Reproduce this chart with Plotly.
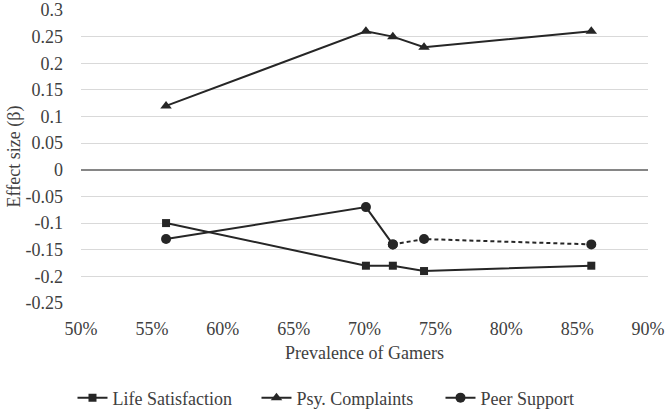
import plotly.graph_objects as go

# prevalence of gamers (%) per country group
prevalence = [56, 70.1, 72, 74.2, 86]

life_satisfaction = [-0.10, -0.18, -0.18, -0.19, -0.18]
psy_complaints = [0.12, 0.26, 0.25, 0.23, 0.26]
peer_support = [-0.13, -0.07, -0.14, -0.13, -0.14]

y_ticks = [0.3, 0.25, 0.2, 0.15, 0.1, 0.05, 0, -0.05, -0.1, -0.15, -0.2, -0.25]
y_labels = ['0.3', '0.25', '0.2', '0.15', '0.1', '0.05', '0', '-0.05', '-0.1', '-0.15', '-0.2', '-0.25']
x_ticks = [50, 55, 60, 65, 70, 75, 80, 85, 90]
x_labels = ['50%', '55%', '60%', '65%', '70%', '75%', '80%', '85%', '90%']

ink = '#262626'
serif = 'Liberation Serif'
txt = dict(family=serif, size=18, color='#404040')

fig = go.Figure()

fig.add_trace(go.Scatter(
    x=prevalence, y=life_satisfaction, name='Life Satisfaction',
    mode='lines+markers', line=dict(color=ink, width=2),
    marker=dict(symbol='square', size=8, color=ink)))

fig.add_trace(go.Scatter(
    x=prevalence, y=psy_complaints, name='Psy. Complaints',
    mode='lines+markers', line=dict(color=ink, width=2),
    marker=dict(symbol='triangle-up', size=10, color=ink)))

# peer support: solid for first three points, dashed afterwards
fig.add_trace(go.Scatter(
    x=prevalence[:3], y=peer_support[:3], name='Peer Support',
    mode='lines+markers', line=dict(color=ink, width=2),
    marker=dict(symbol='circle', size=10, color=ink)))
fig.add_trace(go.Scatter(
    x=prevalence[2:], y=peer_support[2:], name='Peer Support',
    mode='lines+markers', line=dict(color=ink, width=2, dash='4px,3px'),
    marker=dict(symbol='circle', size=10, color=ink), showlegend=False))

fig.update_layout(
    width=666, height=410,
    paper_bgcolor='white', plot_bgcolor='white',
    font=txt,
    margin=dict(l=81, r=18, t=10, b=107, autoexpand=False),
    legend=dict(orientation='h', x=-0.015, xanchor='left', y=-0.324, yanchor='middle',
                font=txt, tracegroupgap=0, entrywidth=139),
    xaxis=dict(
        range=[50, 90], tickvals=x_ticks, ticktext=x_labels, tickfont=txt,
        ticklabelstandoff=13, automargin=False,
        showgrid=False, zeroline=False, showline=False,
        title=dict(text='Prevalence of Gamers', font=txt, standoff=8),
    ),
    yaxis=dict(
        range=[-0.25, 0.3], tickvals=y_ticks, ticktext=y_labels, tickfont=txt,
        ticklabelstandoff=17, automargin=False,
        showgrid=True, gridcolor='#d9d9d9', gridwidth=1,
        zeroline=True, zerolinecolor='#868686', zerolinewidth=1.5,
        title=dict(text='Effect size (β)', font=txt, standoff=0),
    ),
)

# drop the browser's default page margin so the figure sits at the window corner
fig.write_html("out.html", config={'displayModeBar': False},
               post_script="document.body.style.margin='0';")
